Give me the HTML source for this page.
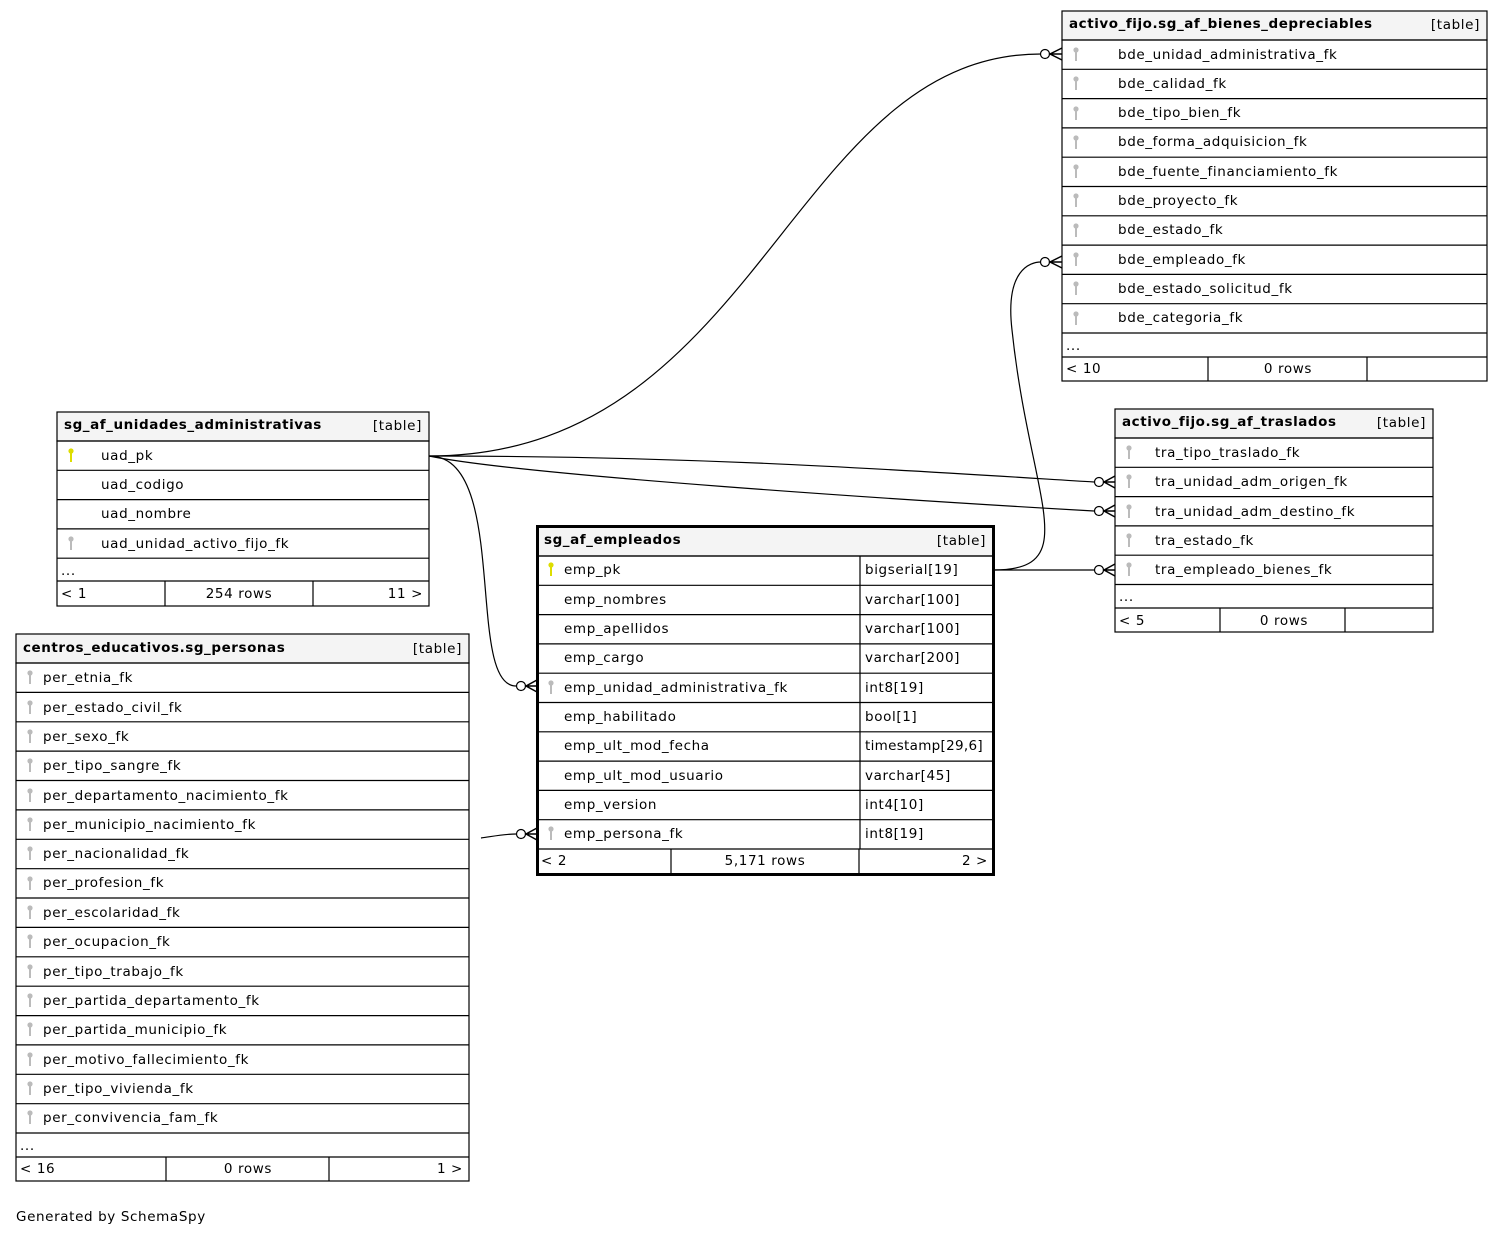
<!DOCTYPE html>
<html><head><meta charset="utf-8"><style>
html,body{margin:0;padding:0;background:#fff;}
svg{display:block;font-family:"DejaVu Sans","Liberation Sans",sans-serif;font-size:13.5px;letter-spacing:0.62px;}
.h{font-weight:bold;letter-spacing:0.55px;}
</style></head><body>
<svg width="1503" height="1236" viewBox="0 0 1503 1236" xmlns="http://www.w3.org/2000/svg">
<defs>
<g id="kg"><circle cx="0" cy="-3" r="2.6" fill="#bbb"/><rect x="-1" y="-1" width="2" height="9" fill="#bbb"/></g>
<g id="ky"><circle cx="0" cy="-3" r="2.6" fill="#dd0"/><rect x="-1" y="-1" width="2" height="9" fill="#dd0"/></g>
</defs>
<rect width="1503" height="1236" fill="#fff"/>

<!-- connectors -->
<g fill="none" stroke="#000" stroke-width="1.2">
<path d="M429,456 C760,456 790,54 1041,54"/>
<path d="M429,456 C700,456 900,470 1094,482"/>
<path d="M429,456 C520,475 900,500 1094,511"/>
<path d="M429,456 C510,456 465,686 516,686"/>
<path d="M993,570 C1085,570 1030,500 1012,330 C1005,270 1030,262 1041,262"/>
<path d="M993,570 L1094,570"/>
<path d="M481,838 C495,836 505,834 516,834"/>
</g>
<g fill="#fff" stroke="#000" stroke-width="1.2">
<circle cx="1045" cy="54" r="4.5"/><circle cx="1045" cy="262" r="4.5"/>
<circle cx="1099" cy="482" r="4.5"/><circle cx="1099" cy="511" r="4.5"/><circle cx="1099" cy="570" r="4.5"/>
<circle cx="521" cy="686" r="4.5"/><circle cx="521" cy="834" r="4.5"/>
</g>
<g fill="none" stroke="#000" stroke-width="1.5">
<path d="M1062,48 L1050,54 L1062,60 M1050,54 L1062,54"/>
<path d="M1062,256 L1050,262 L1062,268 M1050,262 L1062,262"/>
<path d="M1115,476 L1104,482 L1115,488 M1104,482 L1115,482"/>
<path d="M1115,505 L1104,511 L1115,517 M1104,511 L1115,511"/>
<path d="M1115,564 L1104,570 L1115,576 M1104,570 L1115,570"/>
<path d="M537,680 L526,686 L537,692 M526,686 L537,686"/>
<path d="M537,828 L526,834 L537,840 M526,834 L537,834"/>
</g>

<!-- bienes -->
<g stroke="#000" stroke-width="1.2" fill="none">
<rect x="1062" y="11" width="425" height="29" fill="#f4f4f4"/>
<rect x="1062" y="40" width="425" height="341"/>
<path d="M1062,69.3H1487M1062,98.6H1487M1062,127.9H1487M1062,157.2H1487M1062,186.5H1487M1062,215.8H1487M1062,245.1H1487M1062,274.4H1487M1062,303.7H1487M1062,333H1487M1062,357H1487M1208,357V381M1367,357V381"/>
</g>
<text x="1069" y="28" class="h">activo_fijo.sg_af_bienes_depreciables</text><text x="1480" y="29" text-anchor="end">[table]</text>
<use href="#kg" x="1076" y="53"/><text x="1118" y="59">bde_unidad_administrativa_fk</text>
<use href="#kg" x="1076" y="82"/><text x="1118" y="88">bde_calidad_fk</text>
<use href="#kg" x="1076" y="112"/><text x="1118" y="117">bde_tipo_bien_fk</text>
<use href="#kg" x="1076" y="141"/><text x="1118" y="146">bde_forma_adquisicion_fk</text>
<use href="#kg" x="1076" y="170"/><text x="1118" y="176">bde_fuente_financiamiento_fk</text>
<use href="#kg" x="1076" y="199"/><text x="1118" y="205">bde_proyecto_fk</text>
<use href="#kg" x="1076" y="229"/><text x="1118" y="234">bde_estado_fk</text>
<use href="#kg" x="1076" y="258"/><text x="1118" y="264">bde_empleado_fk</text>
<use href="#kg" x="1076" y="287"/><text x="1118" y="293">bde_estado_solicitud_fk</text>
<use href="#kg" x="1076" y="317"/><text x="1118" y="322">bde_categoria_fk</text>
<text x="1066" y="350">...</text>
<text x="1066" y="373">&lt; 10</text><text x="1288" y="373" text-anchor="middle">0 rows</text>

<!-- unidades -->
<g stroke="#000" stroke-width="1.2" fill="none">
<rect x="57" y="412" width="372" height="29" fill="#f4f4f4"/>
<rect x="57" y="441" width="372" height="165"/>
<path d="M57,470.3H429M57,499.6H429M57,528.9H429M57,558.2H429M57,581H429M165,581V606M313,581V606"/>
</g>
<text x="64" y="429" class="h">sg_af_unidades_administrativas</text><text x="422" y="430" text-anchor="end">[table]</text>
<use href="#ky" x="71" y="454"/><text x="101" y="460">uad_pk</text>
<text x="101" y="489">uad_codigo</text>
<text x="101" y="518">uad_nombre</text>
<use href="#kg" x="71" y="542"/><text x="101" y="548">uad_unidad_activo_fijo_fk</text>
<text x="61" y="575">...</text>
<text x="61" y="598">&lt; 1</text><text x="239" y="598" text-anchor="middle">254 rows</text><text x="423" y="598" text-anchor="end">11 &gt;</text>

<!-- personas -->
<g stroke="#000" stroke-width="1.2" fill="none">
<rect x="16" y="634" width="453" height="29" fill="#f4f4f4"/>
<rect x="16" y="663" width="453" height="518"/>
<path d="M16,692.4H469M16,721.8H469M16,751.1H469M16,780.5H469M16,809.9H469M16,839.3H469M16,868.7H469M16,898H469M16,927.4H469M16,956.8H469M16,986.2H469M16,1015.6H469M16,1044.9H469M16,1074.3H469M16,1103.7H469M16,1133H469M16,1157H469M166,1157V1181M329,1157V1181"/>
</g>
<text x="23" y="652" class="h">centros_educativos.sg_personas</text><text x="462" y="653" text-anchor="end">[table]</text>
<g>
<use href="#kg" x="30" y="676"/><text x="43" y="682">per_etnia_fk</text>
<use href="#kg" x="30" y="706"/><text x="43" y="712">per_estado_civil_fk</text>
<use href="#kg" x="30" y="735"/><text x="43" y="741">per_sexo_fk</text>
<use href="#kg" x="30" y="764"/><text x="43" y="770">per_tipo_sangre_fk</text>
<use href="#kg" x="30" y="794"/><text x="43" y="800">per_departamento_nacimiento_fk</text>
<use href="#kg" x="30" y="823"/><text x="43" y="829">per_municipio_nacimiento_fk</text>
<use href="#kg" x="30" y="852"/><text x="43" y="858">per_nacionalidad_fk</text>
<use href="#kg" x="30" y="882"/><text x="43" y="887">per_profesion_fk</text>
<use href="#kg" x="30" y="911"/><text x="43" y="917">per_escolaridad_fk</text>
<use href="#kg" x="30" y="940"/><text x="43" y="946">per_ocupacion_fk</text>
<use href="#kg" x="30" y="970"/><text x="43" y="976">per_tipo_trabajo_fk</text>
<use href="#kg" x="30" y="999"/><text x="43" y="1005">per_partida_departamento_fk</text>
<use href="#kg" x="30" y="1028"/><text x="43" y="1034">per_partida_municipio_fk</text>
<use href="#kg" x="30" y="1058"/><text x="43" y="1064">per_motivo_fallecimiento_fk</text>
<use href="#kg" x="30" y="1087"/><text x="43" y="1093">per_tipo_vivienda_fk</text>
<use href="#kg" x="30" y="1116"/><text x="43" y="1122">per_convivencia_fam_fk</text>
</g>
<text x="20" y="1150">...</text>
<text x="20" y="1173">&lt; 16</text><text x="248" y="1173" text-anchor="middle">0 rows</text><text x="463" y="1173" text-anchor="end">1 &gt;</text>

<!-- empleados -->
<g stroke="#000" stroke-width="1.2" fill="none">
<rect x="537" y="526" width="456" height="30" fill="#f4f4f4"/>
<path d="M537,585.3H993M537,614.6H993M537,643.9H993M537,673.2H993M537,702.5H993M537,731.8H993M537,761.1H993M537,790.4H993M537,819.7H993M537,849H993M860,556V849M671,849V873M859,849V873"/>
<path d="M537,556H993"/>
</g>
<rect x="537.5" y="526.5" width="456" height="348" fill="none" stroke="#000" stroke-width="3"/>
<text x="544" y="544" class="h">sg_af_empleados</text><text x="986" y="545" text-anchor="end">[table]</text>
<use href="#ky" x="551" y="568"/><text x="564" y="574">emp_pk</text><text x="865" y="574">bigserial[19]</text>
<text x="564" y="604">emp_nombres</text><text x="865" y="604">varchar[100]</text>
<text x="564" y="633">emp_apellidos</text><text x="865" y="633">varchar[100]</text>
<text x="564" y="662">emp_cargo</text><text x="865" y="662">varchar[200]</text>
<use href="#kg" x="551" y="686"/><text x="564" y="692">emp_unidad_administrativa_fk</text><text x="865" y="692">int8[19]</text>
<text x="564" y="721">emp_habilitado</text><text x="865" y="721">bool[1]</text>
<text x="564" y="750">emp_ult_mod_fecha</text><text x="865" y="750" style="letter-spacing:0.3px">timestamp[29,6]</text>
<text x="564" y="780">emp_ult_mod_usuario</text><text x="865" y="780">varchar[45]</text>
<text x="564" y="809">emp_version</text><text x="865" y="809">int4[10]</text>
<use href="#kg" x="551" y="832"/><text x="564" y="838">emp_persona_fk</text><text x="865" y="838">int8[19]</text>
<text x="541" y="865">&lt; 2</text><text x="765" y="865" text-anchor="middle">5,171 rows</text><text x="988" y="865" text-anchor="end">2 &gt;</text>

<!-- traslados -->
<g stroke="#000" stroke-width="1.2" fill="none">
<rect x="1115" y="409" width="318" height="29" fill="#f4f4f4"/>
<rect x="1115" y="438" width="318" height="194"/>
<path d="M1115,467.3H1433M1115,496.6H1433M1115,525.9H1433M1115,555.2H1433M1115,584.5H1433M1115,608H1433M1220,608V632M1345,608V632"/>
</g>
<text x="1122" y="426" class="h">activo_fijo.sg_af_traslados</text><text x="1426" y="427" text-anchor="end">[table]</text>
<use href="#kg" x="1129" y="451"/><text x="1155" y="457">tra_tipo_traslado_fk</text>
<use href="#kg" x="1129" y="480"/><text x="1155" y="486">tra_unidad_adm_origen_fk</text>
<use href="#kg" x="1129" y="510"/><text x="1155" y="516">tra_unidad_adm_destino_fk</text>
<use href="#kg" x="1129" y="539"/><text x="1155" y="545">tra_estado_fk</text>
<use href="#kg" x="1129" y="568"/><text x="1155" y="574">tra_empleado_bienes_fk</text>
<text x="1119" y="601">...</text>
<text x="1119" y="625">&lt; 5</text><text x="1284" y="625" text-anchor="middle">0 rows</text>

<text x="16" y="1221">Generated by SchemaSpy</text>
</svg>
</body></html>
